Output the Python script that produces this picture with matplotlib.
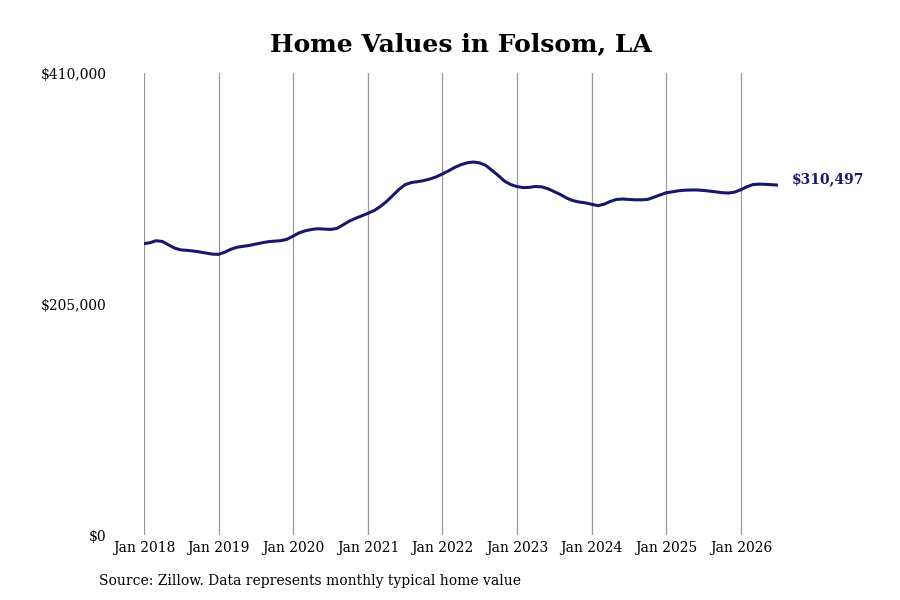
import matplotlib
matplotlib.use("Agg")
import matplotlib.pyplot as plt
import matplotlib.dates as mdates
import pandas as pd

plt.rcParams['font.family'] = ['DejaVu Serif']

# monthly typical home value, Jan 2018 - Jul 2026
start_month = "2018-01-01"
values = [
    258500, 259500, 261200, 260500, 257500, 254500, 253000, 252600, 252000, 251200, 250200, 249300,
    249100, 251000, 253500, 255400, 256200, 257000, 258200, 259300, 260300, 260800, 261200, 262400,
    265300, 268300, 270000, 271200, 271800, 271500, 271200, 272000, 275200, 278500, 281000, 283200,
    285500, 288000, 291300, 295800, 301000, 306500, 310800, 312800, 313600, 314500, 316000, 317800,
    320500, 323300, 326200, 328600, 330300, 331000, 330300, 328000, 323500, 319000, 314000, 311000,
    309200, 308300, 308500, 309300, 309000, 307300, 304800, 302200, 299000, 296800, 295500, 294800,
    293500, 292300, 293500, 296000, 297800, 298200, 297800, 297500, 297500, 297800, 299800, 301800,
    303800, 304600, 305500, 306000, 306200, 306200, 305800, 305200, 304500, 303800, 303500, 304300,
    306500, 309200, 311000, 311400, 311200, 310900, 310497,
]
y_ticks = [0, 205000, 410000]
y_tick_labels = ["$0", "$205,000", "$410,000"]
title = "Home Values in Folsom, LA"
source = "Source: Zillow. Data represents monthly typical home value"

dates = pd.date_range(start_month, periods=len(values), freq="MS")
line_color = "#17176b"

fig = plt.figure(figsize=(9, 6), dpi=100)
ax = fig.add_axes([0.16, 0.1083, 0.7044, 0.77])

ax.plot(dates, values, color=line_color, linewidth=2.2)

ax.set_xlim(dates[0], dates[-1])
ax.set_ylim(0, 410000)
ax.set_yticks(y_ticks)
ax.set_yticklabels(y_tick_labels)

years = pd.date_range("2018-01-01", "2026-01-01", freq="YS")
ax.set_xticks(years)
ax.xaxis.set_major_formatter(mdates.DateFormatter("Jan %Y"))
ax.grid(axis='x', color='#999999', linewidth=0.9)
ax.grid(axis='y', visible=False)

for s in ax.spines.values():
    s.set_visible(False)
ax.tick_params(axis='y', length=0, pad=27, labelsize=10)
ax.tick_params(axis='x', length=0, pad=4, labelsize=10)

# end-of-series value label
ax.annotate(f"${values[-1]:,}", xy=(dates[-1], values[-1]), xytext=(10, 4),
            textcoords='offset points', color=line_color, fontsize=10,
            fontweight='bold', va='center', ha='left')

fig.text(0.512, 0.927, title, ha='center', va='center', fontsize=18, fontweight='bold')
fig.text(0.11, 0.031, source, ha='left', va='center', fontsize=10)

fig.savefig("out.png", dpi=100)
